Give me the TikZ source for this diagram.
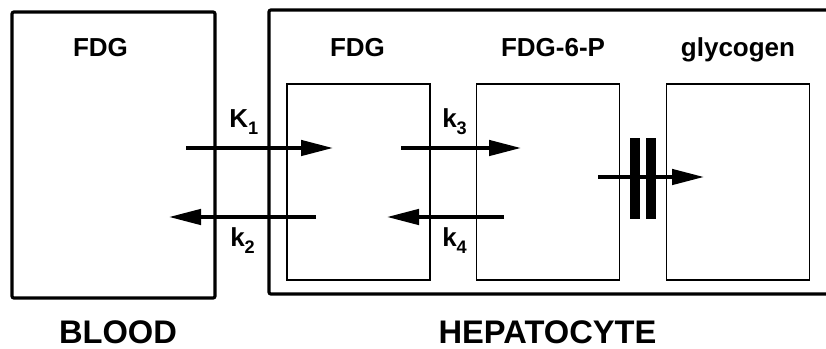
\documentclass[tikz,border=0pt]{standalone}
\usepackage{fontspec}
\setmainfont{Liberation Sans}
\usetikzlibrary{arrows.meta}
\newcommand{\ratesub}[1]{\raisebox{-5.25pt}{\fontsize{13.6}{16}\selectfont #1}}

\begin{document}
\begin{tikzpicture}[
      x=0.75pt, y=-0.75pt,
      outer/.style={draw, line width=2.4pt, rounded corners=1.5pt},
      inner/.style={draw, line width=1.2pt, minimum width=107.25pt,
                    minimum height=147pt},
      bar/.style={fill=black, inner sep=0pt, minimum width=7.5pt,
                  minimum height=60.75pt},
      arr/.style={-{Triangle[length=24pt,width=11.5pt]}, line width=2.7pt},
      ttl/.style={font=\fontsize{19.5}{23}\selectfont\bfseries,
                  anchor=base, inner sep=0pt},
      rate/.style={font=\fontsize{19.5}{23}\selectfont\bfseries,
                   anchor=base west, inner sep=0pt},
      big/.style={font=\fontsize{24.5}{29}\selectfont\bfseries,
                  anchor=base, inner sep=0pt}
    ]
    \clip (0,0) rectangle (826,349);
    % Compartments
    \node[outer, minimum width=152.25pt, minimum height=214.5pt]
      (blood) at (113.5,155) {};
    \node[outer, minimum width=435.75pt, minimum height=213pt]
      (hep) at (559.5,152) {};
    \node[inner] (fdgbox) at (358.5,182) {};
    \node[inner] (fdgpbox) at (548,182) {};
    \node[inner] (glybox) at (738,182) {};
    % Titles
    \node[ttl] (tblood) at (100.5,57) {FDG};
    \node[ttl] (tfdg)   at (357.5,57) {FDG};
    \node[ttl] (tfdgp)  at (553,57)   {FDG-6-P};
    \node[ttl] (tgly)   at (738,57)   {glycogen};
    \node[big] (lblood) at (118,344)   {BLOOD};
    \node[big] (lhep)   at (547.5,344) {HEPATOCYTE};
    % Arrow ends
    \coordinate (aK1) at (186,148);
    \coordinate (bK1) at (333,148);
    \coordinate (ak2) at (316,217);
    \coordinate (bk2) at (169,217);
    \coordinate (ak3) at (401,148);
    \coordinate (bk3) at (521,148);
    \coordinate (ak4) at (504,217);
    \coordinate (bk4) at (387,217);
    \coordinate (agly) at (598,177);
    \coordinate (bgly) at (704,177);
    % Arrows
    \draw[arr] (aK1) -- (bK1);
    \draw[arr] (ak2) -- (bk2);
    \draw[arr] (ak3) -- (bk3);
    \draw[arr] (ak4) -- (bk4);
    \draw[arr] (agly) -- (bgly);
    % Trapping bars
    \node[bar] (bar1) at (635,178.5) {};
    \node[bar] (bar2) at (651,178.5) {};
    % Rate constants
    \node[rate] (rK1) at (229,128) {K\ratesub{1}};
    \node[rate] (rk2) at (230,247) {k\ratesub{2}};
    \node[rate] (rk3) at (442,128) {k\ratesub{3}};
    \node[rate] (rk4) at (442,247) {k\ratesub{4}};
  \end{tikzpicture}
\end{document}
